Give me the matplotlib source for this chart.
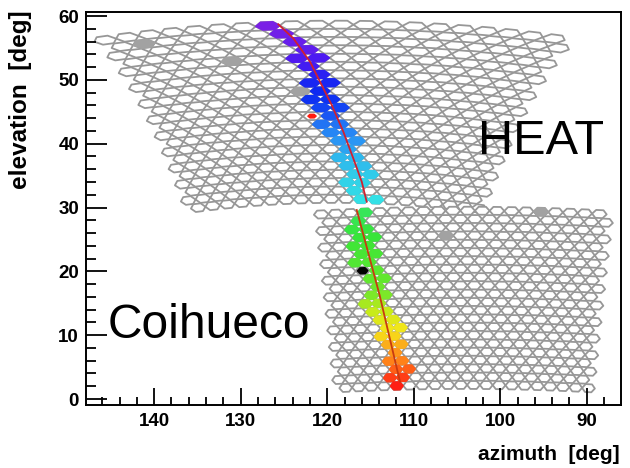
import numpy as np
import matplotlib
matplotlib.use("Agg")
import matplotlib.pyplot as plt
from matplotlib.collections import PolyCollection
from matplotlib.colors import LinearSegmentedColormap
from matplotlib.ticker import MultipleLocator

# camera layout: 22 rows x 20 columns of hexagonal pixels
n_rows, n_cols = 22, 20
col_step, row_step = 1.52, 1.3                     # deg in the camera frame
cam_names = ["HEAT", "Coihueco"]
cam_az = [119.1, 104.2]                            # pointing azimuth (deg)
cam_el = [45.0, 15.85]                             # pointing elevation (deg)

# triggered pixels: camera, row, column, relative signal time
hit_cam = ["HEAT"] * 34 + ["Coihueco"] * 38
hit_row = [0, 1, 2, 3, 4, 5, 6, 7, 7, 8, 9, 9, 10, 10, 11, 12, 12, 13, 13, 14, 14,
           15, 16, 16, 17, 17, 18, 18, 19, 19, 20, 21, 21, 4,
           0, 1, 2, 2, 3, 3, 4, 4, 5, 5, 6, 6, 7, 8, 8, 9, 10, 10, 11, 11, 12, 12,
           13, 13, 14, 14, 15, 15, 16, 16, 17, 18, 18, 19, 19, 20, 20, 21]
hit_col = [7, 7, 8, 8, 8, 8, 9, 8, 9, 9, 8, 9, 9, 10, 9, 9, 10, 9, 10, 10, 11,
           10, 10, 11, 10, 11, 11, 12, 10, 11, 11, 11, 12, 9,
           3, 2, 2, 3, 2, 3, 2, 3, 2, 3, 2, 3, 3, 3, 4, 3, 3, 4, 2, 3, 3, 4,
           3, 4, 4, 5, 3, 4, 4, 5, 4, 4, 5, 4, 5, 4, 5, 4]
hit_time = [0.00, 0.02, 0.04, 0.06, 0.09, 0.11, 0.14, 0.16, 0.16, 0.17, 0.18, 0.18,
            0.20, 0.20, 0.22, 0.25, 0.25, 0.27, 0.27, 0.29, 0.29, 0.31, 0.34, 0.34,
            0.35, 0.35, 0.37, 0.37, 0.38, 0.38, 0.39, 0.40, 0.40, 0.10,
            0.52, 0.53, 0.54, 0.54, 0.55, 0.55, 0.56, 0.56, 0.57, 0.57, 0.58, 0.58,
            0.59, 0.60, 0.60, 0.61, 0.63, 0.63, 0.68, 0.68, 0.72, 0.72, 0.76, 0.76,
            0.79, 0.79, 0.82, 0.82, 0.86, 0.86, 0.89, 0.91, 0.91, 0.94, 0.94, 0.97,
            0.97, 1.00]

# pixels flagged as not usable (grey), plus two single-pixel markers
bad_cam = ["HEAT", "HEAT", "HEAT", "Coihueco", "Coihueco"]
bad_row = [1, 4, 8, 3, 0]
bad_col = [1, 5, 8, 8, 15]
mark_cam = ["HEAT", "Coihueco"]
mark_row = [11, 7]
mark_col = [8, 2]
mark_color = ["#ff1a10", "#000000"]
mark_scale = [0.45, 0.75]

# shower-detector-plane fits, one per camera
heat_line_az = [125.65, 123.92, 121.99, 120.64, 119.48, 118.14, 116.99, 116.01, 115.44]
heat_line_el = [58.70, 56.51, 52.84, 49.19, 46.06, 41.88, 37.71, 34.04, 30.91]
coi_line_az = [116.59, 113.95, 111.59]
coi_line_el = [29.61, 16.30, 2.71]

time_cmap = LinearSegmentedColormap.from_list("fdtime", [
    (0.00, (0.48, 0.13, 0.90)), (0.10, (0.30, 0.10, 0.95)), (0.17, (0.05, 0.16, 0.95)),
    (0.28, (0.16, 0.56, 0.96)), (0.40, (0.20, 0.88, 0.90)), (0.55, (0.22, 0.90, 0.22)),
    (0.72, (0.78, 0.92, 0.10)), (0.80, (0.96, 0.90, 0.10)), (0.90, (1.00, 0.55, 0.10)),
    (1.00, (1.00, 0.12, 0.08))])


def cam_to_sky(u, v, az0, el0):
    """Rotate camera-frame angles (u, v) into azimuth / elevation."""
    u = np.radians(u); v = np.radians(v); e = np.radians(el0)
    dx = np.cos(v) * np.cos(u)
    dy = np.cos(v) * np.sin(u)
    dz = np.sin(v)
    X = dx * np.cos(e) - dz * np.sin(e)
    Z = dx * np.sin(e) + dz * np.cos(e)
    return az0 - np.degrees(np.arctan2(dy, X)), np.degrees(np.arcsin(np.clip(Z, -1, 1)))


def pixel_polygon(cam, i, j, scale=1.0, a=0.76, b=0.62):
    k = cam_names.index(cam)
    v = (10.5 - i) * row_step
    u = (j - 9.5) * col_step + (-col_step / 4 if i % 2 == 0 else col_step / 4)
    a, b = a * scale, b * scale
    us = u + np.array([-a, -a / 2, a / 2, a, a / 2, -a / 2])
    vs = v + np.array([0, b, b, 0, -b, -b])
    az, el = cam_to_sky(us, vs, cam_az[k], cam_el[k])
    return np.column_stack([az, el])


fig = plt.figure(figsize=(6.3, 4.68), dpi=100)
ax = fig.add_axes([86 / 630, 1 - 405 / 468, (620.7 - 86) / 630, (405 - 12) / 468])

# empty camera pixels
grid = [pixel_polygon(c, i, j) for c in cam_names for i in range(n_rows) for j in range(n_cols)]
ax.add_collection(PolyCollection(grid, facecolors="white", edgecolors="#979797",
                                 linewidths=1.3, zorder=1))

bad = [pixel_polygon(c, i, j) for c, i, j in zip(bad_cam, bad_row, bad_col)]
ax.add_collection(PolyCollection(bad, facecolors="#a2a2a2", edgecolors="#a2a2a2",
                                 linewidths=1.0, zorder=2))

hit = [pixel_polygon(c, i, j) for c, i, j in zip(hit_cam, hit_row, hit_col)]
hit_colors = time_cmap(np.array(hit_time))
ax.add_collection(PolyCollection(hit, facecolors=hit_colors, edgecolors=hit_colors,
                                 linewidths=1.0, zorder=3))

marks = [pixel_polygon(c, i, j, s) for c, i, j, s in zip(mark_cam, mark_row, mark_col, mark_scale)]
ax.add_collection(PolyCollection(marks, facecolors=mark_color, edgecolors=mark_color,
                                 linewidths=1.0, zorder=4))

ax.plot(heat_line_az, heat_line_el, color="#d02030", lw=1.3, zorder=5)
ax.plot(coi_line_az, coi_line_el, color="#c83a10", lw=1.3, zorder=5)

ax.set_xlim(147.88, 86.08)
ax.set_ylim(-0.94, 60.63)
ax.xaxis.set_major_locator(MultipleLocator(10))
ax.xaxis.set_minor_locator(MultipleLocator(2))
ax.yaxis.set_major_locator(MultipleLocator(10))
ax.yaxis.set_minor_locator(MultipleLocator(2))
ax.tick_params(which="both", direction="in", top=False, right=False, width=1.3)
ax.tick_params(which="major", axis="x", length=12, pad=6)
ax.tick_params(which="minor", axis="x", length=6)
ax.tick_params(which="major", axis="y", length=15, pad=5)
ax.tick_params(which="minor", axis="y", length=7)
ax.tick_params(labelsize=13.5)
for lab in ax.get_xticklabels() + ax.get_yticklabels():
    lab.set_fontweight("bold")
    lab.set_family("Liberation Sans")
for s in ax.spines.values():
    s.set_linewidth(1.4)

ax.text(0.733, 0.639, "HEAT", transform=ax.transAxes, fontsize=35,
        family="Liberation Sans", va="baseline", zorder=6)
ax.text(0.041, 0.170, "Coihueco", transform=ax.transAxes, fontsize=34.5,
        family="Liberation Sans", va="baseline", zorder=6)

fig.text(21 / 630, 1 - 10 / 468, "elevation  [deg]", rotation=90, ha="center", va="top",
         fontsize=17.5, fontweight="bold", family="Liberation Sans")
fig.text(620 / 630, 1 - 460 / 468, "azimuth  [deg]", ha="right", va="baseline",
         fontsize=15, fontweight="bold", family="Liberation Sans")

fig.savefig("out.png", dpi=100)
